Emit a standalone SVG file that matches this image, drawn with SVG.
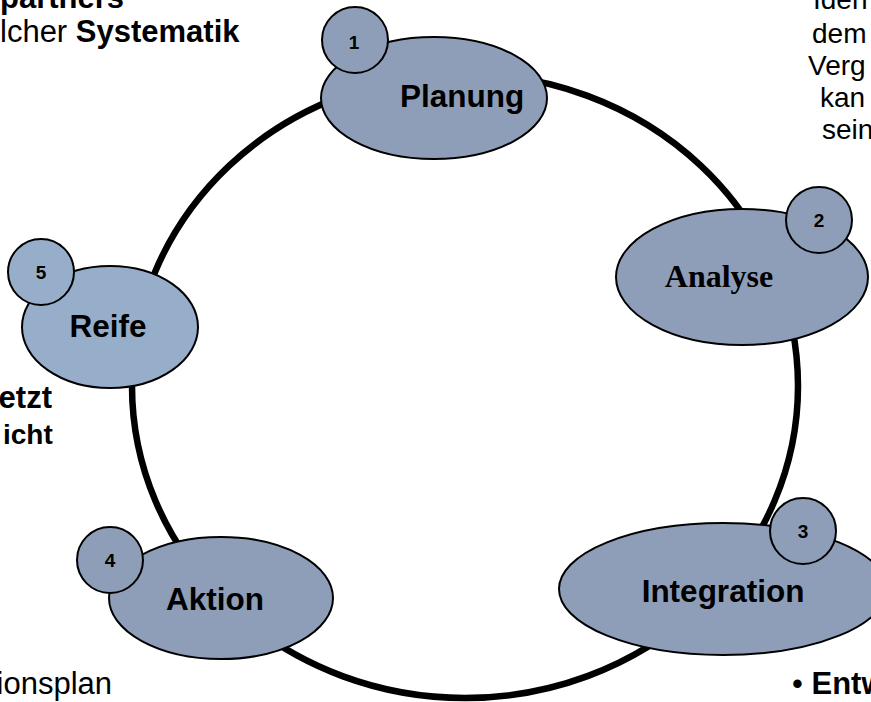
<svg xmlns="http://www.w3.org/2000/svg" width="871" height="702" viewBox="0 0 871 702">
<style>
.node{fill:#8e9eb9;stroke:#000;stroke-width:2}
.light{fill:#97aecb}
.num{font-family:"Liberation Sans",Arial,sans-serif;font-weight:bold;font-size:19px;text-anchor:middle;fill:#000}
.lbl{font-family:"Liberation Sans",Arial,sans-serif;font-weight:bold;font-size:31.5px;text-anchor:middle;fill:#000}
.serif{font-family:"Liberation Serif","Times New Roman",serif}
.txt{font-family:"Liberation Sans",Arial,sans-serif;font-size:31px;fill:#000}
.rt{font-size:28px}
.b{font-weight:bold}
</style>
<rect width="871" height="702" fill="#fff"/>
<g id="connectors">
<ellipse cx="465" cy="386" rx="333" ry="312" fill="none" stroke="#000" stroke-width="6.5"/>
</g>
<g id="node-planung">
<ellipse class="node" cx="434" cy="98" rx="113" ry="61"/>
<text class="lbl" x="462" y="107">Planung</text>
<circle class="node" cx="355" cy="40" r="33"/>
<text class="num" x="354" y="49">1</text>
</g>
<g id="node-analyse">
<ellipse class="node" cx="742" cy="277" rx="126" ry="68"/>
<text class="lbl serif" x="719" y="287" style="font-size:32px">Analyse</text>
<circle class="node" cx="819" cy="220" r="33"/>
<text class="num" x="819" y="227">2</text>
</g>
<g id="node-integration">
<ellipse class="node" cx="723" cy="589" rx="164" ry="66"/>
<text class="lbl" x="723" y="602">Integration</text>
<circle class="node" cx="803" cy="531" r="33"/>
<text class="num" x="803" y="538">3</text>
</g>
<g id="node-aktion">
<ellipse class="node" cx="221" cy="598" rx="112" ry="61"/>
<text class="lbl" x="215" y="610">Aktion</text>
<circle class="node" cx="110" cy="560" r="33"/>
<text class="num" x="110" y="567">4</text>
</g>
<g id="node-reife">
<ellipse class="node light" cx="110" cy="327" rx="88" ry="61"/>
<text class="lbl" x="108" y="337">Reife</text>
<circle class="node light" cx="41" cy="272" r="33"/>
<text class="num" x="41" y="279">5</text>
</g>
<g id="side-texts">
<text class="txt b" x="0" y="8">partners</text>
<text class="txt" x="0" y="42">lcher <tspan class="b">Systematik</tspan></text>
<text class="txt rt" x="813" y="9">Iden</text>
<text class="txt rt" x="812" y="43">dem</text>
<text class="txt rt" x="808" y="75">Verg</text>
<text class="txt rt" x="820" y="107">kan</text>
<text class="txt rt" x="822" y="139">sein</text>
<text class="txt b" x="52" y="408" text-anchor="end">etzt</text>
<text class="txt b" x="3" y="444" style="font-size:28px">icht</text>
<text class="txt" x="112" y="694" text-anchor="end">ionsplan</text>
<text class="txt" x="792" y="694">• <tspan class="b">Entw</tspan></text>
</g>
</svg>
